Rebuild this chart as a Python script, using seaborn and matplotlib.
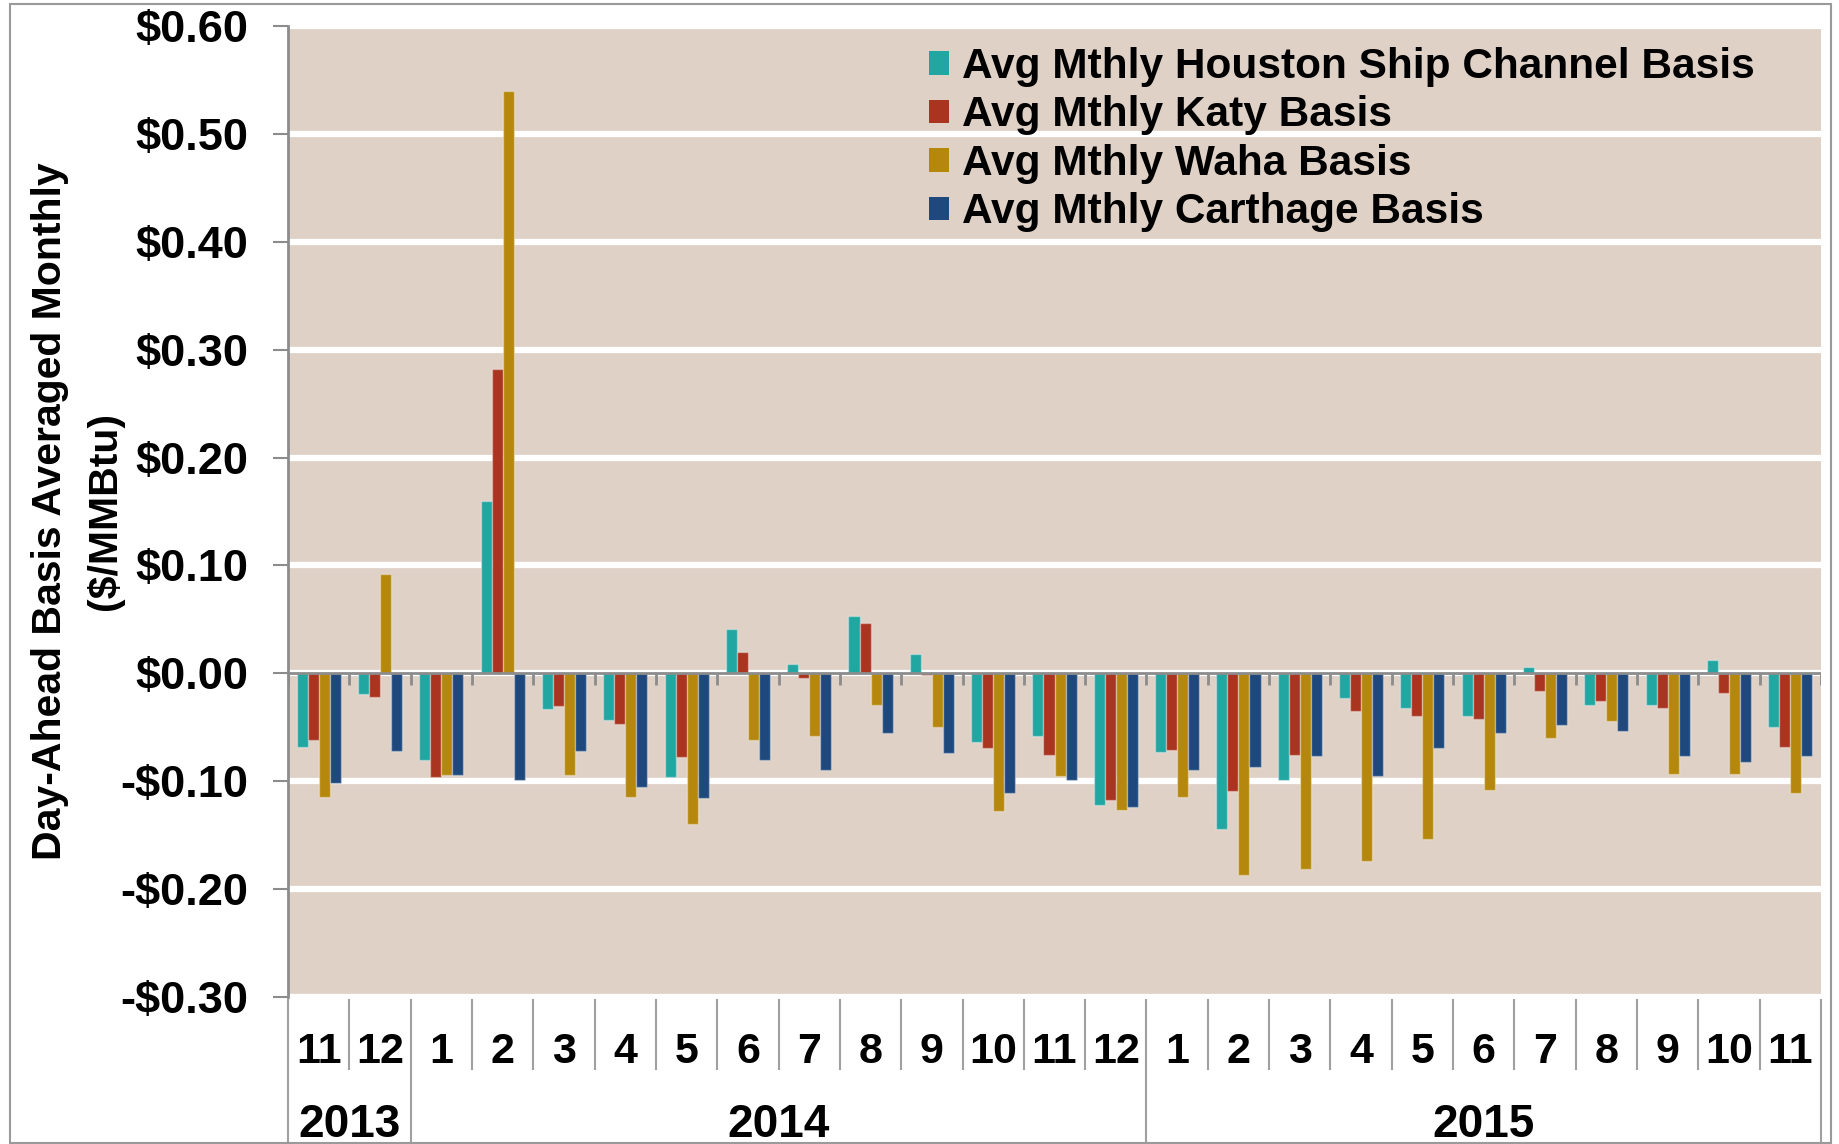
import numpy as np
import pandas as pd
import matplotlib
matplotlib.use("Agg")
import matplotlib.pyplot as plt
import seaborn as sns
from matplotlib.patches import Rectangle, Patch
from matplotlib.ticker import FuncFormatter

# ---------------- data ----------------
months = [11, 12, 1, 2, 3, 4, 5, 6, 7, 8, 9, 10, 11, 12, 1, 2, 3, 4, 5, 6, 7, 8, 9, 10, 11]
years = [2013, 2013] + [2014] * 12 + [2015] * 11

hsc = [-0.068, -0.019, -0.080, 0.160, -0.033, -0.043, -0.096, 0.041, 0.009, 0.053, 0.018, -0.064, -0.058,
       -0.122, -0.073, -0.144, -0.099, -0.023, -0.032, -0.040, 0.006, -0.029, -0.029, 0.012, -0.050]
katy = [-0.062, -0.022, -0.096, 0.282, -0.030, -0.047, -0.078, 0.020, -0.004, 0.047, -0.002, -0.069, -0.076,
        -0.117, -0.071, -0.109, -0.076, -0.035, -0.040, -0.042, -0.016, -0.026, -0.032, -0.018, -0.068]
waha = [-0.115, 0.092, -0.094, 0.540, -0.094, -0.115, -0.140, -0.062, -0.058, -0.029, -0.050, -0.128, -0.095,
        -0.127, -0.115, -0.187, -0.181, -0.174, -0.154, -0.108, -0.060, -0.044, -0.093, -0.093, -0.111]
carthage = [-0.102, -0.072, -0.094, -0.099, -0.072, -0.105, -0.116, -0.080, -0.090, -0.055, -0.074, -0.111, -0.099,
            -0.124, -0.090, -0.087, -0.077, -0.095, -0.069, -0.055, -0.048, -0.053, -0.077, -0.082, -0.077]

series_names = ["Avg Mthly Houston Ship Channel Basis", "Avg Mthly Katy Basis",
                "Avg Mthly Waha Basis", "Avg Mthly Carthage Basis"]
series_colors = ["#22A6A2", "#A93520", "#B5880D", "#1F497D"]

y_ticks = [-0.3, -0.2, -0.1, 0.0, 0.1, 0.2, 0.3, 0.4, 0.5, 0.6]
y_label = "Day-Ahead Basis Averaged Monthly\n($/MMBtu)"

# ---------------- style ----------------
sns.set_theme(style="white")
plt.rcParams["font.family"] = ["Liberation Sans", "DejaVu Sans"]
plt.rcParams["font.weight"] = "bold"
plt.rcParams["text.color"] = "black"

GREY = "#8C8C8C"
W, H = 1839, 1144

keys = [f"{y}-{m:02d}" for y, m in zip(years, months)]
n = len(keys)
df = pd.DataFrame({
    "period": keys * 4,
    "series": np.repeat(series_names, n),
    "value": hsc + katy + waha + carthage,
})

fig = plt.figure(figsize=(W / 100, H / 100), dpi=100)
ax = fig.add_axes([288 / W, 1 - 997 / H, (1821 - 288) / W, (997 - 26) / H])
ax.set_facecolor("#E0D1C7")

sns.barplot(data=df, x="period", y="value", hue="series", order=keys, hue_order=series_names,
            palette=series_colors, width=0.72, saturation=1, errorbar=None,
            edgecolor=(1, 1, 1, 0.35), linewidth=1, legend=False, ax=ax, zorder=3)

ax.set_xlim(-0.5, n - 0.5)
ax.set_ylim(min(y_ticks), max(y_ticks))
ax.set_yticks(y_ticks)


def money(v, pos=None):
    if abs(v) < 1e-9:
        return "$0.00"
    return f"-${abs(v):.2f}" if v < 0 else f"${v:.2f}"


ax.yaxis.set_major_formatter(FuncFormatter(money))
ax.yaxis.grid(True, color="white", linewidth=4.5)
ax.xaxis.grid(False)
ax.set_axisbelow(True)

for s in ["top", "right", "bottom"]:
    ax.spines[s].set_visible(False)
ax.spines["left"].set_color(GREY)
ax.spines["left"].set_linewidth(2)

ax.tick_params(axis="y", direction="out", length=10.8, width=1.5, color=GREY, pad=18,
               labelsize=32.5, labelcolor="black", left=True)
ax.set_xticks(range(n))
ax.set_xticklabels([str(m) for m in months])
ax.tick_params(axis="x", length=0, pad=25, labelsize=31, labelcolor="black")
ax.set_xlabel("")

ax.set_ylabel(y_label, fontsize=29.5, fontweight="bold", linespacing=1.55, color="black")
ax.yaxis.set_label_coords(-0.107, 0.5)

# zero line and its small boundary ticks
ax.axhline(0, color=GREY, linewidth=2, zorder=6)
bounds_all = np.arange(-0.5, n, 1.0)
ax.vlines(bounds_all, -0.011, 0, colors=GREY, linewidth=2, zorder=6)

# category axis separators
xt = ax.get_xaxis_transform()
year_vals = sorted(set(years))
year_bounds = [-0.5]
for yv in year_vals:
    idx = [i for i, yy in enumerate(years) if yy == yv]
    year_bounds.append(idx[-1] + 0.5)
    ax.text((idx[0] + idx[-1]) / 2, -0.1442, str(yv), transform=xt, ha="center", va="baseline",
            fontsize=33, fontweight="bold", color="black")
month_bounds = [b for b in np.arange(0.5, n - 1, 1.0) if b not in year_bounds]
ax.vlines(month_bounds, -0.002, -0.075, transform=xt, colors="#A0A0A0", linewidth=1.5, clip_on=False)
ax.vlines(year_bounds, -0.002, -0.152, transform=xt, colors="#A0A0A0", linewidth=1.5, clip_on=False)

# legend
handles = [Patch(facecolor=c, edgecolor="none") for c in series_colors]
ax.legend(handles, series_names, loc="upper left", bbox_to_anchor=(929 / W, 1 - 47 / H),
          bbox_transform=fig.transFigure, frameon=False, prop={"weight": "bold", "size": 30.5},
          labelcolor="black", handlelength=0.48, handleheight=0.48, handletextpad=0.3,
          labelspacing=0.2, borderpad=0, borderaxespad=0)

# outer chart border
fig.patches.append(Rectangle((10 / W, 1 - 1143 / H), (1831 - 10) / W, (1143 - 4) / H,
                             transform=fig.transFigure, fill=False, edgecolor="#9A9A9A", linewidth=1.5))

fig.savefig("out.png", dpi=100, facecolor="white")
